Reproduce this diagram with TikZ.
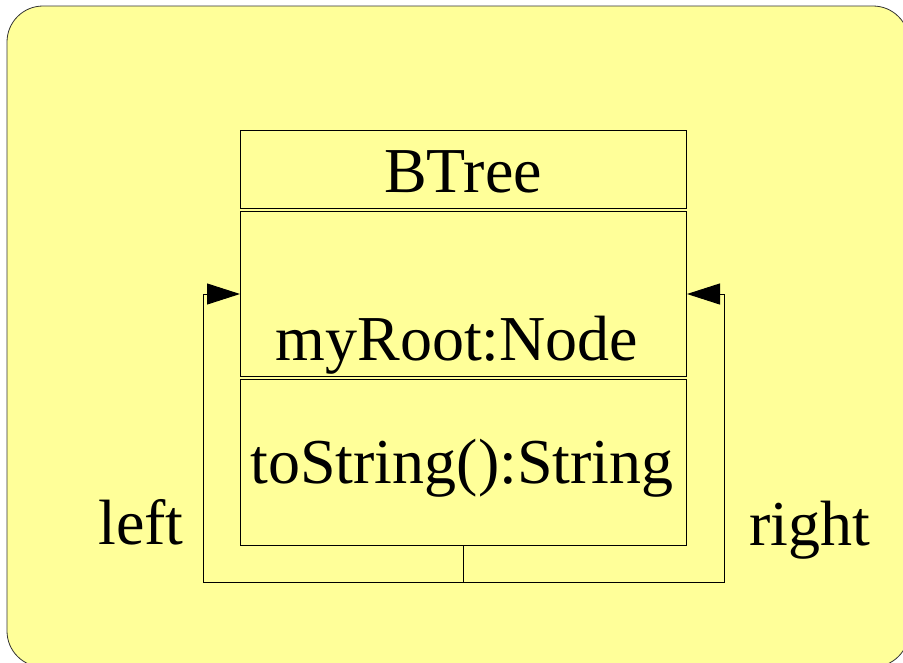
\documentclass[tikz,border=0pt]{standalone}
\usepackage{fontspec}
\setmainfont{Liberation Serif}
\usetikzlibrary{arrows.meta}
\definecolor{noteyellow}{RGB}{255,255,153}

\tikzset{
 umlbox/.style={draw, line width=1pt, minimum width=446pt, inner sep=0pt, anchor=north west},
 lbl/.style={font=\fontsize{64}{70}\selectfont, inner sep=0pt, anchor=base},
 link/.style={line width=1pt, -{Triangle[length=33pt,width=21pt]}}
}

\begin{document}
\begin{tikzpicture}[x=1pt,y=-1pt]
\useasboundingbox (0,0) rectangle (903,662);
\clip (0,0) rectangle (903,662);

% background note
\draw [fill=noteyellow, draw=black!80, line width=0.8pt, rounded corners=36pt] (7,6) rectangle (909,667);

% class boxes
\node [umlbox, minimum height=78pt] (name) at (240,130) {};
\node [umlbox, minimum height=165pt] (attr) at (240,211) {};
\node [umlbox, minimum height=166pt] (ops) at (240,379) {};

\node [lbl] (title) at (463,192) {BTree};
\node [lbl] (field) at (457,360) {myRoot:Node};
\node [lbl] (method) at (462,483) {toString():String};

% self links
\coordinate (fork) at ([yshift=-36pt]ops.south);
\draw [link] (ops.south) -- (fork) -| ([xshift=-37pt]attr.west) -- (attr.west);
\draw [link] (fork) -| ([xshift=37pt]attr.east) -- (attr.east);

\node [lbl] (leftlbl) at (141,544) {left};
\node [lbl] (rightlbl) at (810,545) {right};

\end{tikzpicture}
\end{document}
